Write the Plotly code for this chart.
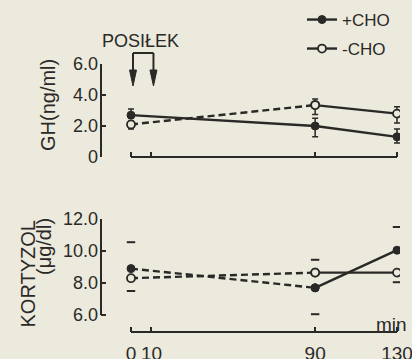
import plotly.graph_objects as go

# ---------------- data ----------------
time_min = [0, 90, 130]
gh_plus = [2.7, 2.0, 1.3]
gh_plus_up = [0.4, 0.5, 0.5]
gh_plus_dn = [0.2, 0.7, 0.4]
gh_minus = [2.1, 3.35, 2.8]
gh_minus_up = [0.2, 0.4, 0.45]
gh_minus_dn = [0.3, 0.6, 0.6]
kort_plus = [8.9, 7.7, 10.05]
kort_plus_up = [1.65, 0, 1.45]
kort_plus_dn = [0, 1.65, 0]
kort_minus = [8.3, 8.65, 8.65]
kort_minus_up = [0, 0.8, 0]
kort_minus_dn = [0.8, 0, 0.6]
meal_times = [0, 10]
x_ticks = [0, 10, 90, 130]
x_ticklabels = ["0", "10", "90", "130"]
gh_ticks = [0, 2, 4, 6]
gh_ticklabels = ["0", "2.0", "4.0", "6.0"]
kort_ticks = [6, 8, 10, 12]
kort_ticklabels = ["6.0", "8.0", "10.0", "12.0"]
series_names = ["+CHO", "-CHO"]

# ---------------- style ----------------
W, H = 412, 359
BG = "#ece9dd"
INK = "#2a2927"
FONT = "Liberation Sans"
LW = 2.4
DASH = "7px,4px"


def xp(px):
    return px / W


def yp(py):
    return 1 - py / H


# x mapping: 0 min -> 131 px, 130 min -> 397 px
x_scale = (397 - 131) / 130.0
x_range = [(101 - 131) / x_scale, (400 - 131) / x_scale]
x_dom = [xp(101), xp(400)]
top_dom = [yp(157), yp(64)]
bot_dom = [yp(332), yp(219)]
kort_range = [12 - (332 - 219) / 16.0, 12]

filled = dict(symbol="circle", size=8, color=INK, line=dict(width=1, color=INK))
opened = dict(symbol="circle", size=8, color=BG, line=dict(width=1.8, color=INK))

fig = go.Figure()


def err_trace(y, up, dn, xa, ya):
    return go.Scatter(
        x=time_min, y=y, mode="markers", xaxis=xa, yaxis=ya,
        marker=dict(size=1, color="rgba(0,0,0,0)"), showlegend=False, hoverinfo="skip",
        error_y=dict(type="data", symmetric=False, array=up, arrayminus=dn,
                     thickness=1.5, width=3, color=INK))


def cap_trace(y, up, dn, xa, ya):
    xs, ys = [], []
    for t, v, u, d in zip(time_min, y, up, dn):
        if u > 0:
            xs.append(t)
            ys.append(v + u)
        if d > 0:
            xs.append(t)
            ys.append(v - d)
    return go.Scatter(x=xs, y=ys, mode="markers", xaxis=xa, yaxis=ya, showlegend=False,
                      hoverinfo="skip",
                      marker=dict(symbol="line-ew", size=6, line=dict(width=2, color=INK)))


def seg(xs, ys, dash, marker, xa, ya, name=None, legend=None):
    return go.Scatter(
        x=xs, y=ys, mode="lines+markers", xaxis=xa, yaxis=ya,
        line=dict(color=INK, width=LW, dash=dash), marker=marker,
        name=name if name else "", showlegend=bool(name),
        legend=legend if legend else "legend")


# top panel (GH)
fig.add_trace(err_trace(gh_plus, gh_plus_up, gh_plus_dn, "x", "y"))
fig.add_trace(err_trace(gh_minus, gh_minus_up, gh_minus_dn, "x", "y"))
fig.add_trace(seg(time_min[:2], gh_minus[:2], DASH, opened, "x", "y"))
fig.add_trace(seg(time_min[1:], gh_minus[1:], "solid", opened, "x", "y",
                  name=series_names[1], legend="legend2"))
fig.add_trace(seg(time_min, gh_plus, "solid", filled, "x", "y",
                  name=series_names[0], legend="legend"))

# bottom panel (KORTYZOL)
fig.add_trace(cap_trace(kort_plus, kort_plus_up, kort_plus_dn, "x2", "y2"))
fig.add_trace(cap_trace(kort_minus, kort_minus_up, kort_minus_dn, "x2", "y2"))
fig.add_trace(seg(time_min[:2], kort_minus[:2], DASH, opened, "x2", "y2"))
fig.add_trace(seg(time_min[1:], kort_minus[1:], "solid", opened, "x2", "y2"))
fig.add_trace(seg(time_min[:2], kort_plus[:2], DASH, filled, "x2", "y2"))
fig.add_trace(seg(time_min[1:], kort_plus[1:], "solid", filled, "x2", "y2"))

xcommon = dict(domain=x_dom, range=x_range, tickvals=x_ticks, ticktext=x_ticklabels,
               ticks="inside", ticklen=5, tickwidth=2, tickcolor=INK, automargin=False,
               showline=False, showgrid=False, zeroline=False, fixedrange=True,
               ticklabeloverflow="allow")
ycommon = dict(ticks="inside", ticklen=5, tickwidth=2, tickcolor=INK, automargin=False,
               showline=False, showgrid=False, zeroline=False,
               tickfont=dict(family=FONT, size=18, color=INK), ticklabelstandoff=2)

fig.update_layout(
    width=W, height=H, margin=dict(l=0, r=0, t=0, b=0, autoexpand=False),
    paper_bgcolor=BG, plot_bgcolor=BG,
    font=dict(family=FONT, color=INK),
    xaxis=dict(**xcommon, anchor="y", showticklabels=False),
    xaxis2=dict(**xcommon, anchor="y2", showticklabels=True,
                tickfont=dict(family=FONT, size=19, color=INK), ticklabelstandoff=8),
    yaxis=dict(**ycommon, domain=top_dom, range=[0, 6], tickvals=gh_ticks,
               ticktext=gh_ticklabels, anchor="x"),
    yaxis2=dict(**ycommon, domain=bot_dom, range=kort_range, tickvals=kort_ticks,
                ticktext=kort_ticklabels, anchor="x2"),
    legend=dict(x=xp(302), y=yp(20), xanchor="left", yanchor="middle",
                bgcolor="rgba(0,0,0,0)", font=dict(family=FONT, size=17, color=INK)),
    legend2=dict(x=xp(302), y=yp(49), xanchor="left", yanchor="middle",
                 bgcolor="rgba(0,0,0,0)", font=dict(family=FONT, size=17, color=INK)),
    showlegend=True,
)

line_style = dict(color=INK, width=2)
shapes = [
    dict(type="line", xref="x domain", yref="y", x0=0, x1=0, y0=gh_ticks[0], y1=gh_ticks[-1], line=line_style),
    dict(type="line", xref="x2 domain", yref="y2", x0=0, x1=0, y0=kort_ticks[0], y1=kort_ticks[-1], line=line_style),
    dict(type="line", xref="x", yref="y domain", x0=x_ticks[0], x1=x_ticks[-1], y0=0, y1=0, line=line_style),
    dict(type="line", xref="x2", yref="y2 domain", x0=x_ticks[0], x1=x_ticks[-1], y0=0, y1=0, line=line_style),
]
# POSIŁEK meal arrows
dx = 2 / x_scale
hw = 3.5 / x_scale
shapes.append(dict(type="line", xref="x", yref="paper", x0=meal_times[0] + dx, x1=meal_times[1] + dx,
                   y0=yp(53), y1=yp(53), line=line_style))
for t in meal_times:
    shapes.append(dict(type="line", xref="x", yref="paper", x0=t + dx, x1=t + dx,
                       y0=yp(53), y1=yp(72), line=line_style))
    path = "M {a},{b} L {c},{b} L {d},{e} Z".format(a=t + dx - hw, b=yp(70), c=t + dx + hw,
                                                   d=t + dx, e=yp(86))
    shapes.append(dict(type="path", xref="x", yref="paper", path=path,
                       fillcolor=INK, line=dict(color=INK, width=1)))
fig.update_layout(shapes=shapes)

ann = dict(showarrow=False, xref="paper", yref="paper", xanchor="center", yanchor="middle",
           font=dict(family=FONT, color=INK))
fig.add_annotation(**ann, x=xp(140), y=yp(41), text="POSIŁEK", font_size=18)
fig.add_annotation(**ann, x=xp(48), y=yp(105), text="GH(ng/ml)", textangle=-90, font_size=20)
fig.add_annotation(**ann, x=xp(27.5), y=yp(274), text="KORTYZOL", textangle=-90, font_size=20)
fig.add_annotation(**ann, x=xp(44), y=yp(247), text="(μg/dl)", textangle=-90, font_size=20)
fig.add_annotation(**ann, x=xp(391), y=yp(324), text="min", font_size=19)

fig.write_html("out.html", config={"displayModeBar": False},
               post_script="document.body.style.margin='0px';document.body.style.overflow='hidden';")
